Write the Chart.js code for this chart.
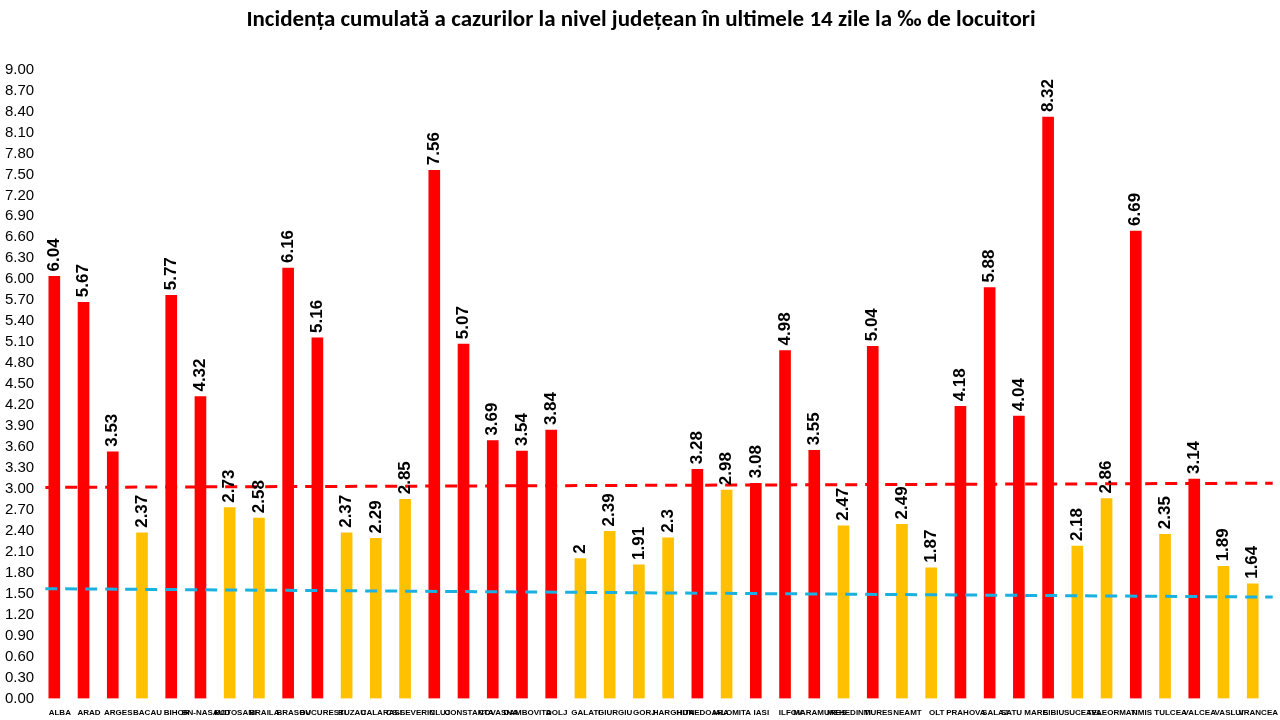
<!DOCTYPE html>
<html><head><meta charset="utf-8">
<script src="https://cdn.jsdelivr.net/npm/chart.js@4/dist/chart.umd.min.js"></script>
<style>body{margin:0;background:#fff}#wrap{width:1280px;height:720px}</style>
</head><body><div id="wrap"><canvas id="c"></canvas></div>
<script>
// counties and 14-day incidence per 1000
const counties = ['ALBA','ARAD','ARGES','BACAU','BIHOR','BN-NASAUD','BOTOSANI','BRAILA','BRASOV','BUCURESTI','BUZAU','CALARASI','CS-SEVERIN','CLUJ','CONSTANTA','COVASNA','DAMBOVITA','DOLJ','GALATI','GIURGIU','GORJ','HARGHITA','HUNEDOARA','IALOMITA','IASI','ILFOV','MARAMURES','MEHEDINTI','MURES','NEAMT','OLT','PRAHOVA','SALAJ','SATU MARE','SIBIU','SUCEAVA','TELEORMAN','TIMIS','TULCEA','VALCEA','VASLUI','VRANCEA'];
const incidence = [6.04,5.67,3.53,2.37,5.77,4.32,2.73,2.58,6.16,5.16,2.37,2.29,2.85,7.56,5.07,3.69,3.54,3.84,2,2.39,1.91,2.3,3.28,2.98,3.08,4.98,3.55,2.47,5.04,2.49,1.87,4.18,5.88,4.04,8.32,2.18,2.86,6.69,2.35,3.14,1.89,1.64];
// threshold lines as drawn (slightly sloped)
const redLine = [3.02,3.08];
const blueLine = [1.57,1.45];

const barColors = incidence.map(v => v >= 3 ? '#ff0000' : '#ffc000');

const valueLabels = {
  id: 'valueLabels',
  afterDatasetsDraw(chart) {
    const ctx = chart.ctx;
    const meta = chart.getDatasetMeta(0);
    ctx.save();
    ctx.font = 'bold 17px Arial, "Liberation Sans", sans-serif';
    ctx.fillStyle = '#000';
    ctx.textAlign = 'left';
    ctx.textBaseline = 'middle';
    meta.data.forEach((bar, i) => {
      ctx.save();
      ctx.translate(bar.x, bar.y - 5);
      ctx.rotate(-Math.PI / 2);
      ctx.fillText(String(incidence[i]), 0, 0);
      ctx.restore();
    });
    ctx.restore();
  }
};

new Chart(document.getElementById('c'), {
  type: 'bar',
  data: {
    labels: counties,
    datasets: [
      { data: incidence, backgroundColor: barColors, barThickness: 11, order: 2 },
      { type: 'line', xAxisID: 'x2', data: [{x: 0, y: redLine[0]}, {x: 1, y: redLine[1]}], borderColor: '#ff0000', borderDash: [12, 8], borderWidth: 3, pointRadius: 0, order: 1 },
      { type: 'line', xAxisID: 'x2', data: [{x: 0, y: blueLine[0]}, {x: 1, y: blueLine[1]}], borderColor: '#1ab0e0', borderDash: [12, 8], borderWidth: 3, pointRadius: 0, order: 1 }
    ]
  },
  options: {
    responsive: true, maintainAspectRatio: false, animation: false,
    layout: { padding: { left: 2, right: 0, top: 0, bottom: 0 } },
    plugins: {
      legend: { display: false }, tooltip: { enabled: false },
      title: { display: true, text: 'Incidența cumulată a cazurilor la nivel județean în ultimele 14 zile la ‰ de locuitori',
        font: { size: 23, weight: 'bold', family: 'Calibri, Carlito, "Liberation Sans", sans-serif' }, color: '#000', padding: { top: 6, bottom: 36 } }
    },
    scales: {
      x: { grid: { display: false }, border: { display: false },
        ticks: { color: '#000', font: { size: 8, weight: 'bold' }, maxRotation: 0, autoSkip: false, padding: 2 } },
      x2: { type: 'linear', display: false, min: 0, max: 1, offset: false },
      y: { min: 0, max: 9, grid: { display: false }, border: { display: false },
        ticks: { stepSize: 0.3, autoSkip: false, color: '#000', font: { size: 15, family: 'Arial, "Liberation Sans", sans-serif' }, callback: v => v.toFixed(2) } }
    }
  },
  plugins: [valueLabels]
});
</script></body></html>
